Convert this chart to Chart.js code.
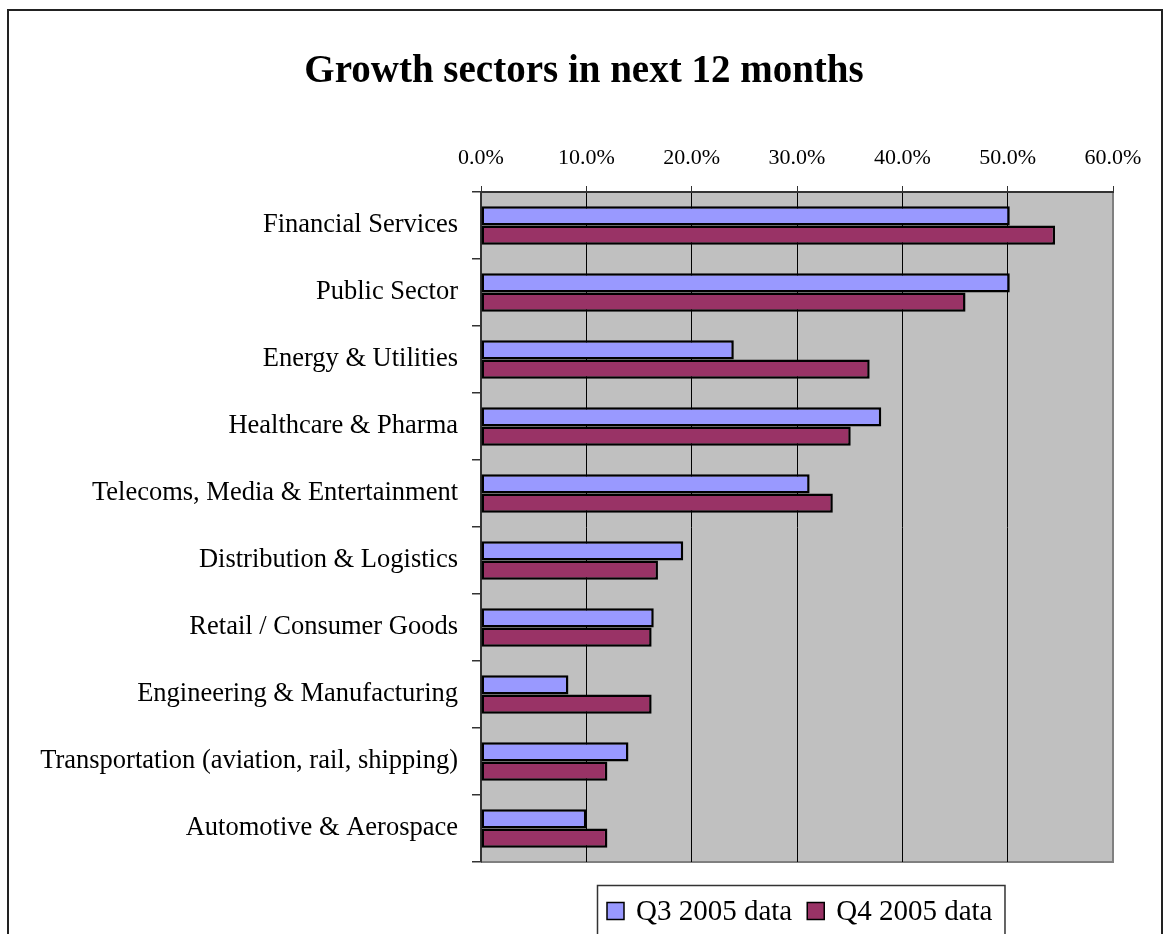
<!DOCTYPE html>
<html>
<head>
<meta charset="utf-8">
<script src="https://cdn.jsdelivr.net/npm/chart.js@4"></script>
<style>
  body { margin: 0; background: #fff; overflow: hidden; }
  #frame { position: absolute; left: 7px; top: 9px; width: 1156px; height: 1000px;
           box-sizing: border-box; border: 2px solid #222; }
  #wrap { position: absolute; left: 0; top: 0; width: 1168px; height: 934px; }
</style>
</head>
<body>
<div id="frame"></div>
<div id="wrap"><canvas id="chart"></canvas></div>
<script>
var sectors = [
    'Financial Services',
    'Public Sector',
    'Energy & Utilities',
    'Healthcare & Pharma',
    'Telecoms, Media & Entertainment',
    'Distribution & Logistics',
    'Retail / Consumer Goods',
    'Engineering & Manufacturing',
    'Transportation (aviation, rail, shipping)',
    'Automotive & Aerospace'
];
var q3Values = [50.2, 50.2, 24.0, 38.0, 31.2, 19.2, 16.4, 8.3, 14.0, 10.0];
var q4Values = [54.5, 46.0, 36.9, 35.1, 33.4, 16.8, 16.2, 16.2, 12.0, 12.0];
var seriesNames = ['Q3 2005 data', 'Q4 2005 data'];
var seriesColors = ['#9999FF', '#993366'];

var serif = "'Liberation Serif', 'Times New Roman', serif";

// gray plot area like the old excel charts
var plotBackground = {
    id: 'plotBackground',
    beforeDraw: function(chart) {
        var a = chart.chartArea, ctx = chart.ctx;
        ctx.save();
        ctx.fillStyle = '#C0C0C0';
        ctx.fillRect(a.left, a.top, a.right - a.left, a.bottom - a.top);
        ctx.strokeStyle = '#808080';
        ctx.lineWidth = 2;
        ctx.beginPath();
        ctx.moveTo(a.right, a.top);
        ctx.lineTo(a.right, a.bottom);
        ctx.lineTo(a.left, a.bottom);
        ctx.stroke();
        ctx.restore();
    }
};

// boxed legend under the plot
var boxLegend = {
    id: 'boxLegend',
    afterDraw: function(chart) {
        var ctx = chart.ctx, a = chart.chartArea;
        var sets = chart.data.datasets;
        var sq = 17, padL = 10, gap = 12, itemGap = 15, padR = 12;
        ctx.save();
        ctx.font = '29px ' + serif;
        var total = padL + padR;
        var widths = [];
        sets.forEach(function(ds, i) {
            var w = ctx.measureText(ds.label).width;
            widths.push(w);
            total += sq + gap + w + (i > 0 ? itemGap : 0);
        });
        var left = Math.round((a.left + a.right) / 2 + 4 - total / 2);
        var top = 885, midY = 911;
        ctx.strokeStyle = '#333';
        ctx.lineWidth = 1.5;
        ctx.strokeRect(left + 0.5, top + 0.5, total, 120);
        var x = left + padL;
        sets.forEach(function(ds, i) {
            if (i > 0) x += itemGap;
            ctx.fillStyle = ds.backgroundColor;
            ctx.fillRect(x, midY - sq / 2, sq, sq);
            ctx.strokeStyle = '#000';
            ctx.lineWidth = 1.5;
            ctx.strokeRect(x, midY - sq / 2, sq, sq);
            x += sq + gap;
            ctx.fillStyle = '#000';
            ctx.textBaseline = 'middle';
            ctx.fillText(ds.label, x, midY + 1);
            x += widths[i];
        });
        ctx.restore();
    }
};

var ctx = document.getElementById('chart');
var myChart = new Chart(ctx, {
    type: 'bar',
    data: {
        labels: sectors,
        datasets: [{
            label: seriesNames[0],
            data: q3Values,
            backgroundColor: seriesColors[0],
            borderColor: '#000',
            borderWidth: 2.5,
            borderSkipped: false,
            categoryPercentage: 0.571,
            barPercentage: 1.0
        }, {
            label: seriesNames[1],
            data: q4Values,
            backgroundColor: seriesColors[1],
            borderColor: '#000',
            borderWidth: 2.5,
            borderSkipped: false,
            categoryPercentage: 0.571,
            barPercentage: 1.0
        }]
    },
    options: {
        indexAxis: 'y',
        responsive: true,
        maintainAspectRatio: false,
        animation: false,
        layout: { padding: { left: 0, right: 0, top: 0, bottom: 72 } },
        plugins: {
            legend: { display: false },
            tooltip: { enabled: false },
            title: {
                display: true,
                text: 'Growth sectors in next 12 months',
                color: '#000',
                font: { family: serif, size: 39, weight: 'bold', lineHeight: 1.2 },
                padding: { top: 49, bottom: 18 }
            }
        },
        scales: {
            x: {
                position: 'top',
                min: 0,
                max: 60,
                ticks: {
                    stepSize: 10,
                    color: '#000',
                    padding: 15,
                    font: { family: serif, size: 22 },
                    callback: function(v) { return v.toFixed(1) + '%'; }
                },
                grid: {
                    color: function(c) { return c.tick && c.tick.value === 60 ? '#808080' : '#000'; },
                    lineWidth: 1,
                    tickLength: 6,
                    tickColor: '#333'
                },
                border: { display: true, color: '#333', width: 2 },
                // room on the right is taken here so the title stays centred on the frame
                afterFit: function(scale) {
                    scale.height = 78.2;
                    scale.paddingRight = 55;
                }
            },
            y: {
                ticks: {
                    color: '#000',
                    padding: 14,
                    font: { family: serif, size: 26.5 }
                },
                grid: {
                    drawOnChartArea: false,
                    drawTicks: true,
                    tickLength: 9,
                    tickColor: '#333',
                    lineWidth: 1.5
                },
                border: { display: true, color: '#333', width: 2 },
                afterFit: function(scale) { scale.width = 481; }
            }
        }
    },
    plugins: [plotBackground, boxLegend]
});
</script>
</body>
</html>
